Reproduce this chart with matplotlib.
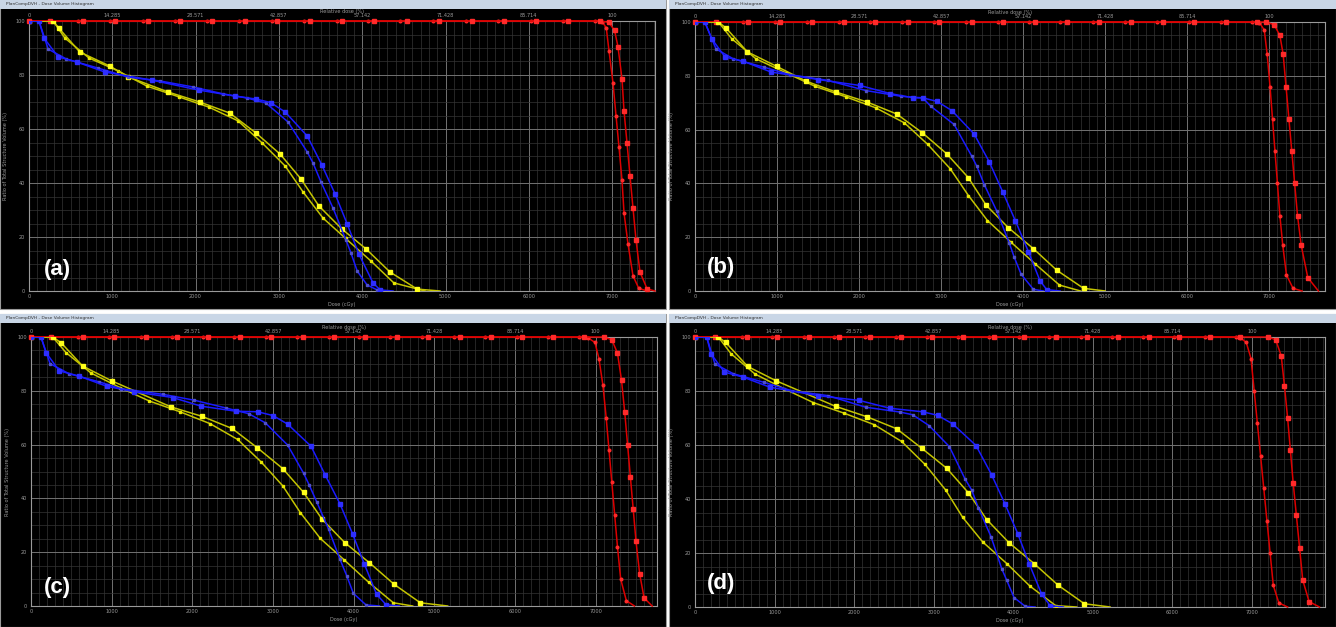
import matplotlib
matplotlib.use("Agg")
import matplotlib.pyplot as plt
from matplotlib.patches import Rectangle
from matplotlib.ticker import MultipleLocator

W, H = 1336, 627

# ---------------- data (dose in cGy, volume in %) ----------------
# red curves: markers along the 100 % plateau (same in all four panels)
RED_TOP_SQ = [0, 252, 648, 1032, 1429, 1813, 2197, 2593, 2977, 3373, 3757,
              4142, 4538, 4922, 5318, 5702, 6086, 6470, 6855]
RED_TOP_DOT = [0, 588, 972, 1369, 1753, 2137, 2521, 2917, 3301, 3697, 4070,
               4454, 4850, 5246, 5630, 6026, 6411, 6795]

# panel (a)
a_blue_sq_x = [0, 120, 180, 350, 575, 910, 1475, 2040, 2470, 2725, 2900, 3075, 3340, 3515, 3675, 3820, 3960, 4130, 4215, 4370]
a_blue_sq_y = [100, 100, 93.7, 86.7, 84.8, 81.1, 78.1, 74.4, 72.2, 71.1, 69.8, 66.3, 57.4, 46.7, 35.9, 24.8, 13.7, 3.0, 0.4, 0]
a_blue_dot_x = [0, 120, 230, 450, 825, 1190, 1570, 1965, 2330, 2615, 2845, 3110, 3340, 3410, 3505, 3650, 3805, 3865, 3940, 4060, 4180, 4250]
a_blue_dot_y = [100, 100, 89.6, 85.9, 82.6, 79.2, 77.8, 75.6, 73.0, 71.5, 69.6, 62.6, 51.5, 47.4, 40.4, 30.7, 18.9, 14.1, 7.4, 2.2, 0.4, 0]
a_yel_sq_x = [0, 290, 360, 610, 970, 1190, 1670, 2050, 2410, 2725, 3015, 3265, 3480, 3755, 4045, 4335, 4660, 4935]
a_yel_sq_y = [100, 100, 97.3, 88.5, 83.3, 79.3, 73.7, 70.0, 65.9, 58.5, 50.7, 41.5, 31.5, 23.0, 15.6, 7.0, 0.7, 0]
a_yel_dot_x = [0, 290, 430, 720, 1070, 1415, 1800, 2160, 2510, 2800, 3075, 3290, 3530, 3800, 4105, 4380, 4755]
a_yel_dot_y = [100, 100, 93.7, 86.3, 81.5, 75.9, 71.9, 68.1, 63.0, 54.8, 46.3, 36.7, 27.0, 19.5, 11.1, 3.0, 0]
a_red_sq_x = [6960, 7030, 7071, 7119, 7143, 7179, 7215, 7251, 7287, 7335, 7420, 7515]
a_red_sq_y = [99.5, 96.5, 90.4, 78.5, 66.7, 54.8, 42.6, 30.7, 18.9, 7.0, 0.8, 0]
a_red_dot_x = [6880, 6930, 6963, 7011, 7047, 7083, 7119, 7143, 7191, 7251, 7320, 7420]
a_red_dot_y = [99.8, 97.5, 88.9, 77.0, 65.0, 53.3, 41.0, 29.0, 17.4, 5.6, 1.0, 0]

# panel (b)
b_blue_sq_x = [0, 120, 203, 366, 589, 927, 1504, 2012, 2378, 2663, 2776, 2950, 3130, 3402, 3589, 3752, 3907, 4065, 4207, 4289, 4451]
b_blue_sq_y = [100, 100, 93.8, 87.0, 85.4, 81.4, 78.6, 76.4, 73.4, 71.8, 71.8, 70.5, 67.1, 58.4, 47.9, 36.8, 26.0, 14.6, 3.7, 0.5, 0]
b_blue_dot_x = [0, 120, 256, 467, 841, 1159, 1618, 2085, 2508, 2776, 2874, 3159, 3374, 3435, 3529, 3679, 3833, 3890, 3976, 4126, 4248]
b_blue_dot_y = [100, 100, 90.0, 86.3, 83.2, 80.4, 78.3, 74.5, 72.4, 71.8, 68.7, 61.9, 50.1, 46.4, 39.4, 29.7, 17.7, 12.7, 6.2, 0.6, 0]
b_yel_sq_x = [0, 285, 378, 638, 996, 1354, 1715, 2093, 2459, 2772, 3069, 3333, 3549, 3821, 4126, 4411, 4736, 5000]
b_yel_sq_y = [100, 100, 97.8, 88.9, 83.5, 78.0, 74.0, 70.3, 65.8, 58.8, 51.0, 42.1, 31.9, 23.5, 15.7, 7.7, 1.0, 0]
b_yel_dot_x = [0, 285, 447, 744, 1110, 1463, 1837, 2203, 2553, 2837, 3110, 3333, 3565, 3850, 4146, 4443, 4700]
b_yel_dot_y = [100, 100, 93.8, 86.3, 81.1, 76.1, 72.2, 68.1, 62.5, 54.5, 45.5, 35.5, 26.2, 18.2, 10.1, 2.2, 0]
b_red_sq_x = [6960, 7060, 7130, 7170, 7205, 7240, 7275, 7310, 7345, 7390, 7470, 7600]
b_red_sq_y = [100, 99, 95, 88, 76, 64, 52, 40, 28, 17, 5, 0]
b_red_dot_x = [6880, 6940, 6975, 7010, 7040, 7070, 7100, 7130, 7165, 7210, 7290, 7400]
b_red_dot_y = [99.8, 97, 88, 76, 64, 52, 40, 28, 17, 6, 1, 0]

# panel (c)
c_blue_sq_x = [0, 124, 186, 351, 591, 938, 1281, 1756, 2107, 2541, 2810, 3000, 3182, 3471, 3649, 3831, 3988, 4132, 4285, 4401, 4566]
c_blue_sq_y = [100, 100, 94.2, 87.4, 85.5, 81.7, 79.6, 77.5, 74.3, 72.4, 72.2, 70.8, 67.6, 59.4, 48.6, 37.9, 26.7, 15.6, 4.3, 0.5, 0]
c_blue_dot_x = [0, 124, 236, 467, 847, 1116, 1632, 2025, 2417, 2698, 2905, 3182, 3380, 3450, 3545, 3690, 3831, 3913, 3996, 4153, 4318]
c_blue_dot_y = [100, 100, 90.1, 86.4, 83.3, 80.8, 78.7, 76.5, 73.6, 71.5, 68.1, 59.8, 49.3, 44.9, 38.5, 28.5, 17.3, 11.3, 4.7, 0.4, 0]
c_yel_sq_x = [0, 269, 372, 640, 1000, 1736, 2120, 2492, 2802, 3120, 3380, 3607, 3888, 4194, 4504, 4826, 5165]
c_yel_sq_y = [100, 100, 97.9, 89.2, 83.7, 74.0, 70.5, 66.0, 58.9, 51.1, 42.2, 32.3, 23.6, 16.1, 8.0, 1.2, 0]
c_yel_dot_x = [0, 269, 434, 744, 1103, 1467, 1847, 2219, 2562, 2851, 3120, 3339, 3587, 3884, 4186, 4492, 4731]
c_yel_dot_y = [100, 100, 94.2, 86.6, 81.2, 76.2, 72.2, 67.8, 61.9, 53.6, 44.7, 34.7, 25.1, 17.1, 8.8, 1.2, 0]
c_red_sq_x = [7100, 7200, 7270, 7320, 7360, 7395, 7430, 7465, 7500, 7545, 7600, 7700]
c_red_sq_y = [100, 99, 94, 84, 72, 60, 48, 36, 24, 12, 3, 0]
c_red_dot_x = [6900, 6990, 7040, 7090, 7130, 7165, 7200, 7235, 7270, 7310, 7380, 7480]
c_red_dot_y = [99.8, 98, 92, 82, 70, 58, 46, 34, 22, 10, 2, 0]

# panel (d)
d_blue_sq_x = [0, 147, 201, 369, 608, 943, 1542, 2066, 2452, 2862, 3050, 3240, 3533, 3730, 3898, 4057, 4200, 4359, 4464, 4631]
d_blue_sq_y = [100, 100, 93.8, 87.0, 85.1, 81.4, 78.3, 76.5, 73.6, 72.3, 71.0, 67.8, 59.8, 48.9, 38.1, 27.2, 16.1, 4.7, 0.5, 0]
d_blue_dot_x = [0, 147, 251, 482, 868, 1215, 1668, 2146, 2578, 2737, 2942, 3198, 3395, 3479, 3562, 3722, 3856, 3919, 4011, 4149, 4275]
d_blue_dot_y = [100, 100, 90.0, 86.4, 83.2, 80.1, 78.3, 74.0, 72.2, 71.2, 67.2, 59.4, 47.4, 43.3, 36.8, 26.0, 14.2, 9.9, 3.5, 0.3, 0]
d_yel_sq_x = [0, 293, 386, 662, 1018, 1769, 2158, 2536, 2850, 3164, 3437, 3667, 3948, 4262, 4568, 4895, 5218]
d_yel_sq_y = [100, 100, 98.0, 89.1, 83.8, 74.3, 70.5, 66.0, 58.8, 51.4, 42.3, 32.4, 23.8, 16.1, 8.0, 1.2, 0]
d_yel_dot_x = [0, 293, 453, 754, 1123, 1488, 1873, 2255, 2598, 2892, 3152, 3365, 3617, 3919, 4212, 4535, 4799]
d_yel_dot_y = [100, 100, 93.8, 86.3, 80.8, 75.7, 71.8, 67.5, 61.3, 52.8, 43.3, 33.2, 24.1, 16.1, 7.7, 0.5, 0]
d_red_sq_x = [7200, 7300, 7370, 7410, 7450, 7485, 7520, 7560, 7600, 7640, 7720, 7850]
d_red_sq_y = [100, 99, 93, 82, 70, 58, 46, 34, 22, 10, 2, 0]
d_red_dot_x = [6850, 6930, 6990, 7030, 7070, 7110, 7150, 7190, 7230, 7270, 7340, 7450]
d_red_dot_y = [99.8, 98, 92, 80, 68, 56, 44, 32, 20, 8, 1.5, 0]

DOSE_TICKS = [0, 1000, 2000, 3000, 4000, 5000, 6000, 7000]
REL_TICKS = [0, 14.285, 28.571, 42.857, 57.142, 71.428, 85.714, 100]
REL_LABELS = ["0", "14.285", "28.571", "42.857", "57.142", "71.428", "85.714", "100"]
VOL_TICKS = [0, 20, 40, 60, 80, 100]

PANELS = [
    # label, window box (px), axes box (px), x max, label position, curves
    ("(a)", (0, 0, 666, 309), (29, 21, 655, 291), 7515, (57, 270),
     (a_blue_sq_x, a_blue_sq_y, a_blue_dot_x, a_blue_dot_y, a_yel_sq_x, a_yel_sq_y,
      a_yel_dot_x, a_yel_dot_y, a_red_sq_x, a_red_sq_y, a_red_dot_x, a_red_dot_y)),
    ("(b)", (669, 0, 1336, 309), (695, 22, 1325, 291), 7680, (721, 267),
     (b_blue_sq_x, b_blue_sq_y, b_blue_dot_x, b_blue_dot_y, b_yel_sq_x, b_yel_sq_y,
      b_yel_dot_x, b_yel_dot_y, b_red_sq_x, b_red_sq_y, b_red_dot_x, b_red_dot_y)),
    ("(c)", (0, 314, 666, 627), (31, 337, 657, 606), 7760, (57, 587),
     (c_blue_sq_x, c_blue_sq_y, c_blue_dot_x, c_blue_dot_y, c_yel_sq_x, c_yel_sq_y,
      c_yel_dot_x, c_yel_dot_y, c_red_sq_x, c_red_sq_y, c_red_dot_x, c_red_dot_y)),
    ("(d)", (669, 314, 1336, 627), (695, 337, 1325, 607), 7920, (721, 584),
     (d_blue_sq_x, d_blue_sq_y, d_blue_dot_x, d_blue_dot_y, d_yel_sq_x, d_yel_sq_y,
      d_yel_dot_x, d_yel_dot_y, d_red_sq_x, d_red_sq_y, d_red_dot_x, d_red_dot_y)),
]

LABEL_GRAY = "#9a9a9a"
NO_LAST = slice(0, -1)   # no marker on the tail point at 0 %


def fbox(x0, y0, x1, y1):
    # pixel box (top-left origin) -> figure fraction [l, b, w, h]
    return [x0 / W, 1 - y1 / H, (x1 - x0) / W, (y1 - y0) / H]


fig = plt.figure(figsize=(W / 100, H / 100), dpi=100, facecolor="white")

for label, win, axb, xmax, lab_xy, curves in PANELS:
    # screenshot window: title bar + black body (kept behind the axes)
    l, b, w, h = fbox(*win)
    fig.add_artist(Rectangle((l, b), w, h, transform=fig.transFigure,
                             facecolor="black", edgecolor="#9a9a9a", lw=0.8,
                             zorder=-10))
    tl, tb, tw, th = fbox(win[0], win[1], win[2], win[1] + 9)
    fig.add_artist(Rectangle((tl, tb), tw, th, transform=fig.transFigure,
                             facecolor="#c9d6e6", edgecolor="none", zorder=-9))
    fig.text((win[0] + 6) / W, 1 - (win[1] + 4.5) / H,
             "PlanCompDVH - Dose Volume Histogram", fontsize=3.2,
             color="#303030", va="center", ha="left")

    ax = fig.add_axes(fbox(*axb))
    ax.set_facecolor("black")
    ax.set_xlim(0, xmax)
    ax.set_ylim(0, 100)

    (bsx, bsy, bdx, bdy, ysx, ysy, ydx, ydy, rsx, rsy, rdx, rdy) = curves

    # red curves: plateau markers + fall-off
    ax.plot(RED_TOP_DOT + rdx, [100] * len(RED_TOP_DOT) + rdy, color="#dd0000",
            lw=1.1, marker="o", ms=1.9, mfc="#ff2a2a", mec="#ff2a2a", zorder=3,
            markevery=NO_LAST, clip_on=False)
    ax.plot(RED_TOP_SQ + rsx, [100] * len(RED_TOP_SQ) + rsy, color="#dd0000",
            lw=1.1, marker="s", ms=2.7, mfc="#ff2a2a", mec="#ff2a2a", zorder=3,
            markevery=NO_LAST, clip_on=False)

    # yellow curves
    ax.plot(ydx, ydy, color="#c4c400", lw=1.1, marker="s", ms=1.8,
            mfc="#e8e800", mec="#e8e800", zorder=4, markevery=NO_LAST)
    ax.plot(ysx, ysy, color="#c4c400", lw=1.1, marker="s", ms=2.8,
            mfc="#ffff1a", mec="#ffff1a", zorder=4, markevery=NO_LAST)

    # blue curves
    ax.plot(bdx, bdy, color="#1a1aff", lw=1.1, marker="s", ms=1.9,
            mfc="#5050c8", mec="#5050c8", zorder=5, markevery=NO_LAST)
    ax.plot(bsx, bsy, color="#1a1aff", lw=1.1, marker="s", ms=2.8,
            mfc="#2e2eff", mec="#2e2eff", zorder=5, markevery=NO_LAST)

    # grid
    ax.set_xticks(DOSE_TICKS)
    ax.set_yticks(VOL_TICKS)
    ax.xaxis.set_minor_locator(MultipleLocator(100))
    ax.yaxis.set_minor_locator(MultipleLocator(5))
    ax.grid(True, which="major", color="#727272", lw=0.7, zorder=1)
    ax.grid(True, which="minor", color="#353535", lw=0.5, zorder=0)
    ax.set_axisbelow(True)

    ax.tick_params(which="both", colors=LABEL_GRAY, labelsize=3.6, length=0, pad=2.5)
    ax.tick_params(axis="y", pad=3)
    for sp in ax.spines.values():
        sp.set_color(LABEL_GRAY)
        sp.set_linewidth(0.8)

    ax_w = axb[2] - axb[0]
    ax_h = axb[3] - axb[1]
    ax.set_xlabel("Dose (cGy)", fontsize=3.6, color=LABEL_GRAY)
    ax.xaxis.set_label_coords(0.5, -11 / ax_h)
    ax.set_ylabel("Ratio of Total Structure Volume (%)", fontsize=3.6,
                  color=LABEL_GRAY)
    ax.yaxis.set_label_coords(-21 / ax_w, 0.5)

    top = ax.secondary_xaxis("top", functions=(lambda d: d / 70.0, lambda r: r * 70.0))
    top.set_xticks(REL_TICKS)
    top.set_xticklabels(REL_LABELS)
    top.tick_params(colors=LABEL_GRAY, labelsize=3.6, length=0, pad=2)
    top.spines["top"].set_visible(False)
    top.set_xlabel("Relative dose (%)", fontsize=3.6, color=LABEL_GRAY, labelpad=0.5)

    fig.text(lab_xy[0] / W, 1 - lab_xy[1] / H, label, fontsize=16,
             fontweight="bold", color="white", ha="center", va="center",
             family="Liberation Sans")

fig.savefig("out.png", dpi=100, facecolor=fig.get_facecolor())
